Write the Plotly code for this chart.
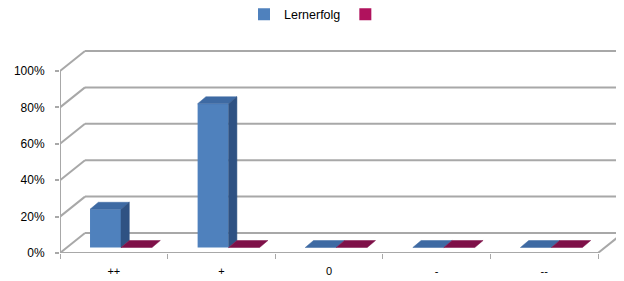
import plotly.graph_objects as go

# ---- data ----
categories = ["++", "+", "0", "-", "--"]
lernerfolg = [0.21, 0.79, 0.0, 0.0, 0.0]
series2 = [0.0, 0.0, 0.0, 0.0, 0.0]
series_names = ["Lernerfolg", " "]
y_ticks = [0, 0.2, 0.4, 0.6, 0.8, 1.0]

# ---- layout constants (pixels); page body has an 8px margin ----
PAGE_OFF = 8
W, H = 624 - PAGE_OFF, 281 - PAGE_OFF
ML, MR, MB, MT = 60 - PAGE_OFF, 0, 28, 40 - PAGE_OFF
XU = 107.6          # px per category
YU = 182.0          # px per 100 %
PW, PH = W - ML - MR, H - MB - MT
XMAX, YMAX = PW / XU, PH / YU
# wall depth (oblique projection)
WDX, WDY = 25 / XU, 20 / YU
# bar placement
BASE = 5.5 / YU
BDX, BDY = 8.3 / XU, 7.0 / YU
BW = 0.288
OFFS = [0.279, 0.567]

front = ["#4f81bd", "#b0125d"]
topc = ["#3e6aa3", "#7e1048"]
sidec = ["#2f5283", "#5e0c35"]
GRID = "#a8a8a8"

fig = go.Figure()
n = len(categories)

# gridlines / walls
shapes = []
for v in y_ticks:
    shapes.append(dict(type="line", xref="x", yref="y", x0=WDX, y0=v + WDY, x1=XMAX, y1=v + WDY,
                       line=dict(color=GRID, width=2), layer="below"))
    shapes.append(dict(type="line", xref="x", yref="y", x0=0, y0=v, x1=WDX, y1=v + WDY,
                       line=dict(color=GRID, width=2), layer="below"))
shapes.append(dict(type="line", xref="x", yref="y", x0=0, y0=0, x1=0, y1=y_ticks[-1],
                   line=dict(color=GRID, width=2), layer="below"))
shapes.append(dict(type="line", xref="x", yref="y", x0=0, y0=0, x1=n, y1=0,
                   line=dict(color=GRID, width=2), layer="below"))
shapes.append(dict(type="line", xref="x", yref="y", x0=n, y0=0, x1=n + WDX, y1=WDY,
                   line=dict(color=GRID, width=2), layer="below"))

series = [lernerfolg, series2]
for s, vals in enumerate(series):
    fig.add_trace(go.Bar(
        x=[i + OFFS[s] + BW / 2 for i in range(n)], y=vals, base=BASE, width=BW,
        marker=dict(color=front[s], line=dict(width=0)), name=series_names[s],
        showlegend=True))

for s, vals in enumerate(series):
    for i, v in enumerate(vals):
        xl = i + OFFS[s]
        xr = xl + BW
        top = BASE + v
        fig.add_trace(go.Scatter(
            x=[xl, xl + BDX, xr + BDX, xr, xl], y=[top, top + BDY, top + BDY, top, top],
            fill="toself", fillcolor=topc[s], mode="lines", line=dict(width=0.5, color=topc[s]),
            showlegend=False, hoverinfo="skip"))
        if v > 0:
            fig.add_trace(go.Scatter(
                x=[xr, xr, xr + BDX, xr + BDX, xr], y=[BASE, top, top + BDY, BASE + BDY, BASE],
                fill="toself", fillcolor=sidec[s], mode="lines", line=dict(width=0.5, color=sidec[s]),
                showlegend=False, hoverinfo="skip"))

fig.update_layout(
    width=W, height=H, margin=dict(l=ML, r=MR, t=MT, b=MB, pad=0, autoexpand=False),
    paper_bgcolor="white", plot_bgcolor="white",
    font=dict(family="Liberation Sans, Arial, sans-serif", size=12, color="#000"),
    barmode="overlay", shapes=shapes,
    legend=dict(orientation="h", xref="container", yref="container", x=(306 + 5) / W, y=1 - 6.5 / H,
                xanchor="center", yanchor="middle", font=dict(size=12.5),
                itemwidth=30, tracegroupgap=0),
    xaxis=dict(range=[0, XMAX], showgrid=False, zeroline=False, showline=False, automargin=False,
               tickvals=[i + 0.5 for i in range(n)], ticktext=categories,
               ticks="outside", ticklen=8, tickcolor="rgba(0,0,0,0)", tickfont=dict(size=11),
               minor=dict(ticks="outside", tick0=0, dtick=1, ticklen=5, tickcolor=GRID, tickwidth=1,
                          showgrid=False)),
    yaxis=dict(range=[0, YMAX], showgrid=False, zeroline=False, showline=False, automargin=False,
               tickvals=y_ticks, tickformat=".0%", ticks="outside", ticklen=4,
               tickcolor=GRID, tickwidth=2, ticklabelstandoff=8, tickfont=dict(size=12)),
    showlegend=True,
)

fig.write_html("out.html")
